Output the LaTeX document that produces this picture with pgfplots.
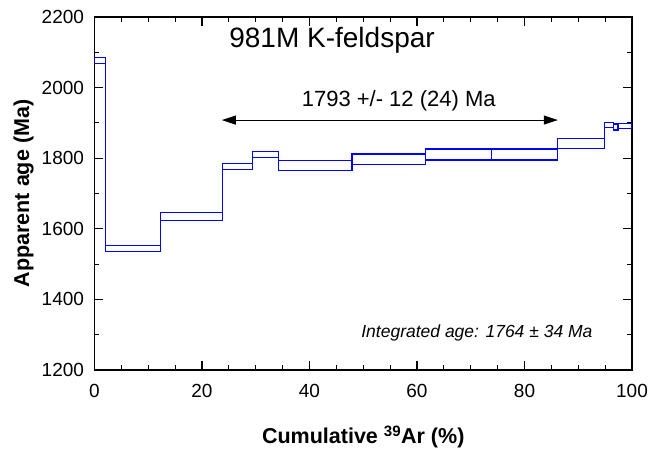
\documentclass[border=0pt]{standalone}
\usepackage{fontspec}
\setmainfont{Liberation Sans}
\usepackage{pgfplots}
\pgfplotsset{compat=1.18}
\usetikzlibrary{arrows.meta}
\definecolor{stepblue}{RGB}{0,0,255}

\begin{document}
\begin{tikzpicture}
\begin{axis}[
  scale only axis,
  width=537.5bp, height=353bp,
  xmin=0, xmax=100, ymin=1200, ymax=2200,
  xtick={0,20,...,100}, minor x tick num=3,
  ytick={1200,1400,...,2200}, minor y tick num=1,
  tick align=inside,
  major tick length=9bp, minor tick length=5bp,
  every tick/.style={black, line width=1.1bp},
  axis line style={line width=1.4bp},
  /pgf/number format/assume math mode=true,
  /pgf/number format/1000 sep={},
  tick label style={font=\fontsize{19bp}{21bp}\selectfont},
  xticklabel style={yshift=-11bp},
  yticklabel style={xshift=-7bp},
  xlabel={\bfseries Cumulative \textsuperscript{39}Ar (\%)},
  ylabel={\bfseries Apparent age (Ma)},
  label style={font=\fontsize{21.5bp}{23bp}\selectfont},
  xlabel style={at={(axis description cs:0.5,-0.19)}, anchor=center},
  ylabel style={at={(axis description cs:-0.132,0.5)}, anchor=center},
  unbounded coords=jump,
]
% upper edge of the steps
\addplot[stepblue, line width=1.1bp, const plot mark left] coordinates {
  (0,2085) (2.0,1553) (12.2,1645) (23.8,1786) (29.4,1818) (34.3,1794) (47.9,1812)
  (61.6,1826) (73.9,1826) (86.2,1855) (94.8,1902) (96.5,1897) (97.4,1899) (100,1899)
};
% lower edge of the steps
\addplot[stepblue, line width=1.1bp, const plot mark left] coordinates {
  (0,2067) (2.0,1535) (12.2,1623) (23.8,1769) (29.4,1801) (34.3,1764) (47.9,1781)
  (61.6,1795) (73.9,1795) (86.2,1828) (94.8,1886) (96.5,1880) (97.4,1883) (100,1883)
};
% step boundaries
\addplot[stepblue, line width=1.1bp] coordinates {
  (0,2067) (0,2085) (0,nan)
  (2.0,1535) (2.0,2085) (2.0,nan)
  (12.2,1535) (12.2,1645) (12.2,nan)
  (23.8,1623) (23.8,1786) (23.8,nan)
  (29.4,1769) (29.4,1818) (29.4,nan)
  (34.3,1764) (34.3,1818) (34.3,nan)
  (47.9,1764) (47.9,1812) (47.9,nan)
  (61.6,1781) (61.6,1826) (61.6,nan)
  (73.9,1795) (73.9,1826) (73.9,nan)
  (86.2,1795) (86.2,1855) (86.2,nan)
  (94.8,1828) (94.8,1902) (94.8,nan)
  (96.5,1880) (96.5,1902) (96.5,nan)
  (97.4,1880) (97.4,1899) (97.4,nan)
  (100,1883) (100,1899)
};

\draw[{Triangle[length=14bp,width=9bp]}-{Triangle[length=14bp,width=9bp]}, line width=1bp]
  (axis cs:23.7,1908) -- (axis cs:86.2,1908);
\node[font=\fontsize{28bp}{30bp}\selectfont] at (axis cs:44.2,2135) {981M K-feldspar};
\node[font=\fontsize{22bp}{24bp}\selectfont] at (axis cs:56.6,1962) {1793 +/- 12 (24) Ma};
\node[font=\fontsize{17.5bp}{19bp}\selectfont\itshape, anchor=east] at (axis cs:93.3,1305) {Integrated age: 1764 ± 34 Ma};
\end{axis}
\path[use as bounding box] (-94.5bp,-82bp) rectangle (557.5bp,370bp);
\end{tikzpicture}
\end{document}
